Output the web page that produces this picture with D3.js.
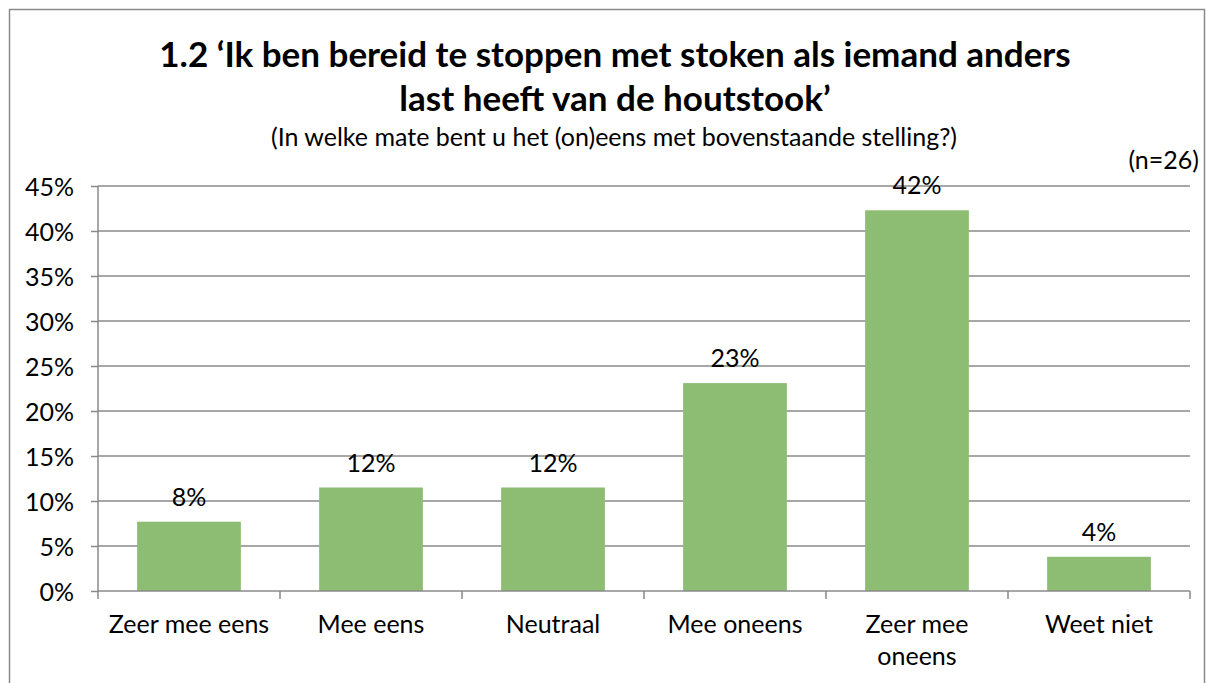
<!DOCTYPE html>
<html>
<head>
<meta charset="utf-8">
<script src="https://cdn.jsdelivr.net/npm/d3@7"></script>
<style>
  body { margin: 0; background: #fff; }
  svg { font-family: "Lato", "Open Sans", sans-serif; }
</style>
</head>
<body>
<div id="chart"></div>
<script>
var categories = ["Zeer mee eens", "Mee eens", "Neutraal", "Mee oneens", "Zeer mee oneens", "Weet niet"]
var values = [7.7, 11.5, 11.5, 23.1, 42.3, 3.8]
var valueLabels = ["8%", "12%", "12%", "23%", "42%", "4%"]
var yTicks = [0, 5, 10, 15, 20, 25, 30, 35, 40, 45]

var W = 1206, H = 683
var margin = { top: 186, right: 16, bottom: 92, left: 98 }
var width = W - margin.left - margin.right,
    height = H - margin.top - margin.bottom
var fontFam = "Lato"
var fs = "25px"

var svg = d3.select("#chart")
    .append("svg")
    .attr("width", W)
    .attr("height", H)

// outer frame
svg.append("rect")
    .attr("x", 9.5).attr("y", 9.5)
    .attr("width", W - 11).attr("height", H)
    .attr("fill", "none")
    .attr("stroke", "#8a8a8a")
    .attr("stroke-width", 1.5)

svg.append("text")
    .attr("x", 615).attr("y", 67)
    .attr("text-anchor", "middle")
    .attr("font-weight", "bold")
    .attr("font-size", "35px")
    .text("1.2 \u2018Ik ben bereid te stoppen met stoken als iemand anders")
svg.append("text")
    .attr("x", 615).attr("y", 111)
    .attr("text-anchor", "middle")
    .attr("font-weight", "bold")
    .attr("font-size", "35px")
    .text("last heeft van de houtstook\u2019")
svg.append("text")
    .attr("x", 614).attr("y", 146)
    .attr("text-anchor", "middle")
    .attr("font-size", fs)
    .text("(In welke mate bent u het (on)eens met bovenstaande stelling?)")
svg.append("text")
    .attr("x", 1199).attr("y", 169)
    .attr("text-anchor", "end")
    .attr("font-size", fs)
    .text("(n=26)")

var g = svg.append("g")
    .attr("transform", "translate(" + margin.left + "," + margin.top + ")")

var x = d3.scaleBand()
    .domain(categories)
    .range([0, width])
    .paddingInner(0.43)
    .paddingOuter(0.215)

var y = d3.scaleLinear()
    .domain([0, 45])
    .range([height, 0])

// gridlines
g.selectAll(".grid")
    .data(yTicks.filter(function (d) { return d > 0 }))
    .enter()
    .append("line")
    .attr("x1", 0).attr("x2", width)
    .attr("y1", function (d) { return y(d) })
    .attr("y2", function (d) { return y(d) })
    .attr("stroke", "#8a8a8a")
    .attr("stroke-width", 1.5)

// y axis
var yAxis = g.append("g")
    .call(d3.axisLeft(y).tickValues(yTicks).tickSize(7).tickPadding(17)
        .tickFormat(function (d) { return d + "%" }))
yAxis.attr("font-family", fontFam).attr("font-size", fs)
yAxis.selectAll("text").attr("fill", "#000").attr("dy", "0.36em")
yAxis.selectAll("line").attr("stroke", "#8a8a8a").attr("stroke-width", 1.5)
yAxis.select(".domain").attr("stroke", "#8a8a8a").attr("stroke-width", 1.5)
    .attr("d", "M0," + height + "V0")

// bars
g.selectAll(".bar")
    .data(values)
    .enter()
    .append("rect")
    .attr("x", function (d, i) { return x(categories[i]) })
    .attr("y", function (d) { return y(d) })
    .attr("width", x.bandwidth())
    .attr("height", function (d) { return height - y(d) })
    .attr("fill", "#8dbd73")

// value labels
g.selectAll(".lbl")
    .data(values)
    .enter()
    .append("text")
    .attr("x", function (d, i) { return x(categories[i]) + x.bandwidth() / 2 })
    .attr("y", function (d) { return y(d) - 16 })
    .attr("text-anchor", "middle")
    .attr("font-size", fs)
    .text(function (d, i) { return valueLabels[i] })

// x axis
var step = width / categories.length
var xAxis = g.append("g").attr("transform", "translate(0," + height + ")")
xAxis.append("line")
    .attr("x1", 0).attr("x2", width)
    .attr("stroke", "#8a8a8a").attr("stroke-width", 1.5)
xAxis.selectAll(".tick")
    .data(d3.range(categories.length + 1))
    .enter()
    .append("line")
    .attr("x1", function (d) { return d * step })
    .attr("x2", function (d) { return d * step })
    .attr("y1", 0).attr("y2", 8)
    .attr("stroke", "#8a8a8a").attr("stroke-width", 1.5)

var labelLines = { "Zeer mee oneens": ["Zeer mee", "oneens"] }
categories.forEach(function (c) {
    var lines = labelLines[c] || [c]
    var t = xAxis.append("text")
        .attr("text-anchor", "middle")
        .attr("font-size", fs)
    lines.forEach(function (l, k) {
        t.append("tspan")
            .attr("x", x(c) + x.bandwidth() / 2)
            .attr("y", 42 + k * 32)
            .text(l)
    })
})
</script>
</body>
</html>
